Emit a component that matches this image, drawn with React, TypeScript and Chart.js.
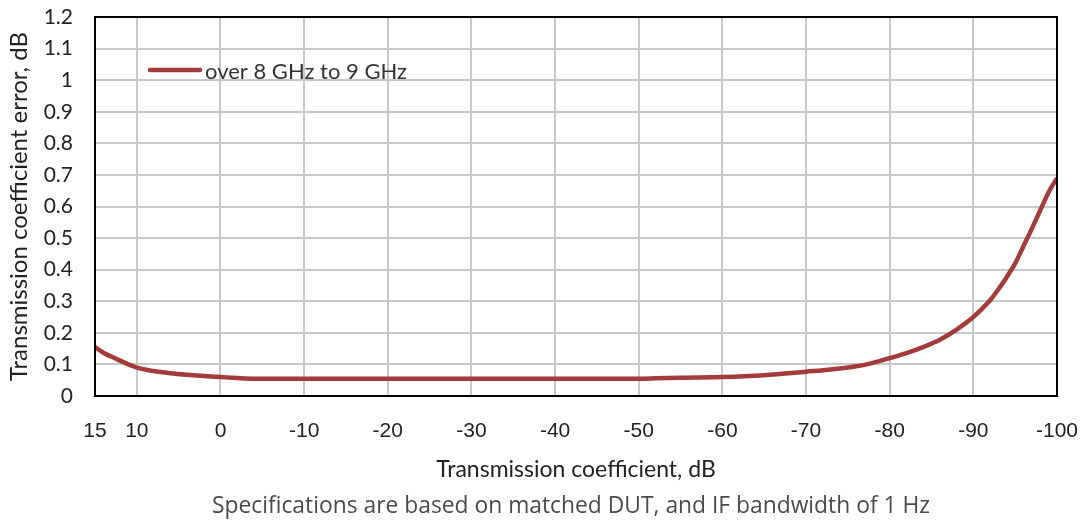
import React, { useEffect, useRef } from "react";
import { Chart, registerables } from "chart.js";

Chart.register(...registerables);

const transmissionDb = [15, 14, 13, 12, 11, 10, 8, 6, 4, 2, 0, -2, -4, -10, -20, -30, -40, -50, -52, -55, -60, -65, -70, -73, -76, -78, -80, -82, -84, -86, -88, -90, -91, -92, -93, -94, -95, -96, -97, -98, -99, -100];
const errorDb = [0.155, 0.137, 0.124, 0.112, 0.1, 0.09, 0.079, 0.072, 0.067, 0.063, 0.06, 0.057, 0.055, 0.055, 0.055, 0.055, 0.055, 0.055, 0.056, 0.058, 0.06, 0.066, 0.077, 0.084, 0.094, 0.105, 0.12, 0.136, 0.155, 0.178, 0.21, 0.25, 0.275, 0.303, 0.338, 0.377, 0.42, 0.475, 0.53, 0.588, 0.645, 0.69];
const xTicks = [15, 10, 0, -10, -20, -30, -40, -50, -60, -70, -80, -90, -100];
const seriesLabel = "over 8 GHz to 9 GHz";
const xTitle = "Transmission coefficient, dB";
const yTitle = "Transmission coefficient error, dB";
const caption = "Specifications are based on matched DUT, and IF bandwidth of 1 Hz";

const LINE_COLOR = "#A33B3B";

const framePlugin = {
  id: "frameAndExtras",
  afterDraw(chart: any) {
    const { ctx, chartArea } = chart;
    ctx.save();
    ctx.strokeStyle = "#000";
    ctx.lineWidth = 2;
    ctx.strokeRect(chartArea.left, chartArea.top, chartArea.right - chartArea.left, chartArea.bottom - chartArea.top);
    // legend
    const ly = 70;
    ctx.strokeStyle = LINE_COLOR;
    ctx.lineWidth = 4.5;
    ctx.lineCap = "round";
    ctx.beginPath();
    ctx.moveTo(150, ly);
    ctx.lineTo(200, ly);
    ctx.stroke();
    ctx.fillStyle = "#333";
    ctx.font = "22px Lato";
    ctx.textBaseline = "middle";
    ctx.textAlign = "left";
    ctx.fillText(seriesLabel, 205, ly + 2);
    // caption (condensed)
    ctx.fillStyle = "#4a4a4a";
    ctx.font = "24px 'Open Sans'";
    ctx.textAlign = "left";
    const w = ctx.measureText(caption).width;
    const targetW = 718;
    ctx.translate(212, 506);
    ctx.scale(targetW / w, 1);
    ctx.fillText(caption, 0, 0);
    ctx.restore();
  },
};

export default function App() {
  const ref = useRef<HTMLCanvasElement | null>(null);
  useEffect(() => {
    if (!ref.current) return;
    const points = transmissionDb.map((x, i) => ({ x, y: errorDb[i] }));
    const chart = new Chart(ref.current, {
      type: "line",
      data: {
        datasets: [
          {
            label: seriesLabel,
            data: points,
            borderColor: LINE_COLOR,
            backgroundColor: LINE_COLOR,
            borderWidth: 4.5,
            pointRadius: 0,
            cubicInterpolationMode: "monotone",
            fill: false,
          },
        ],
      },
      options: {
        animation: false,
        responsive: false,
        layout: { padding: { top: 17, right: 29, left: 0, bottom: 0 } },
        plugins: { legend: { display: false }, tooltip: { enabled: false } },
        scales: {
          x: {
            type: "linear",
            reverse: true,
            min: -100,
            max: 15,
            afterBuildTicks: (scale: any) => {
              scale.ticks = xTicks.map((v) => ({ value: v }));
            },
            afterFit: (scale: any) => {
              scale.height = 125;
              scale.paddingLeft = 0;
              scale.paddingRight = 0;
            },
            grid: { color: "#c8c8c8", lineWidth: 2, drawTicks: false },
            border: { display: false },
            ticks: {
              autoSkip: false,
              maxRotation: 0,
              padding: 23,
              color: "#222",
              font: { family: "'Liberation Sans', Arial", size: 21 },
              callback: (v: any) => String(v),
            },
            title: {
              display: true,
              text: xTitle,
              color: "#222",
              font: { family: "Lato", size: 23 },
              padding: { top: 0, bottom: 38 },
            },
          },
          y: {
            type: "linear",
            min: 0,
            max: 1.2,
            afterFit: (scale: any) => {
              scale.width = 95;
              scale.paddingTop = 0;
              scale.paddingBottom = 0;
            },
            grid: { color: "#c8c8c8", lineWidth: 2, drawTicks: false },
            border: { display: false },
            ticks: {
              stepSize: 0.1,
              padding: 22,
              color: "#222",
              font: { family: "Lato", size: 21 },
              callback: (v: any) => String(Number(Number(v).toFixed(1))),
            },
            title: {
              display: true,
              text: yTitle,
              color: "#222",
              font: { family: "Lato", size: 24 },
              padding: { top: 5, bottom: 0 },
            },
          },
        },
      },
      plugins: [framePlugin],
    });
    return () => chart.destroy();
  }, []);
  return (
    <div style={{ position: "fixed", left: 0, top: 0, width: 1086, height: 521, background: "#fff" }}>
      <canvas ref={ref} width={1086} height={521} style={{ width: 1086, height: 521 }} />
    </div>
  );
}
